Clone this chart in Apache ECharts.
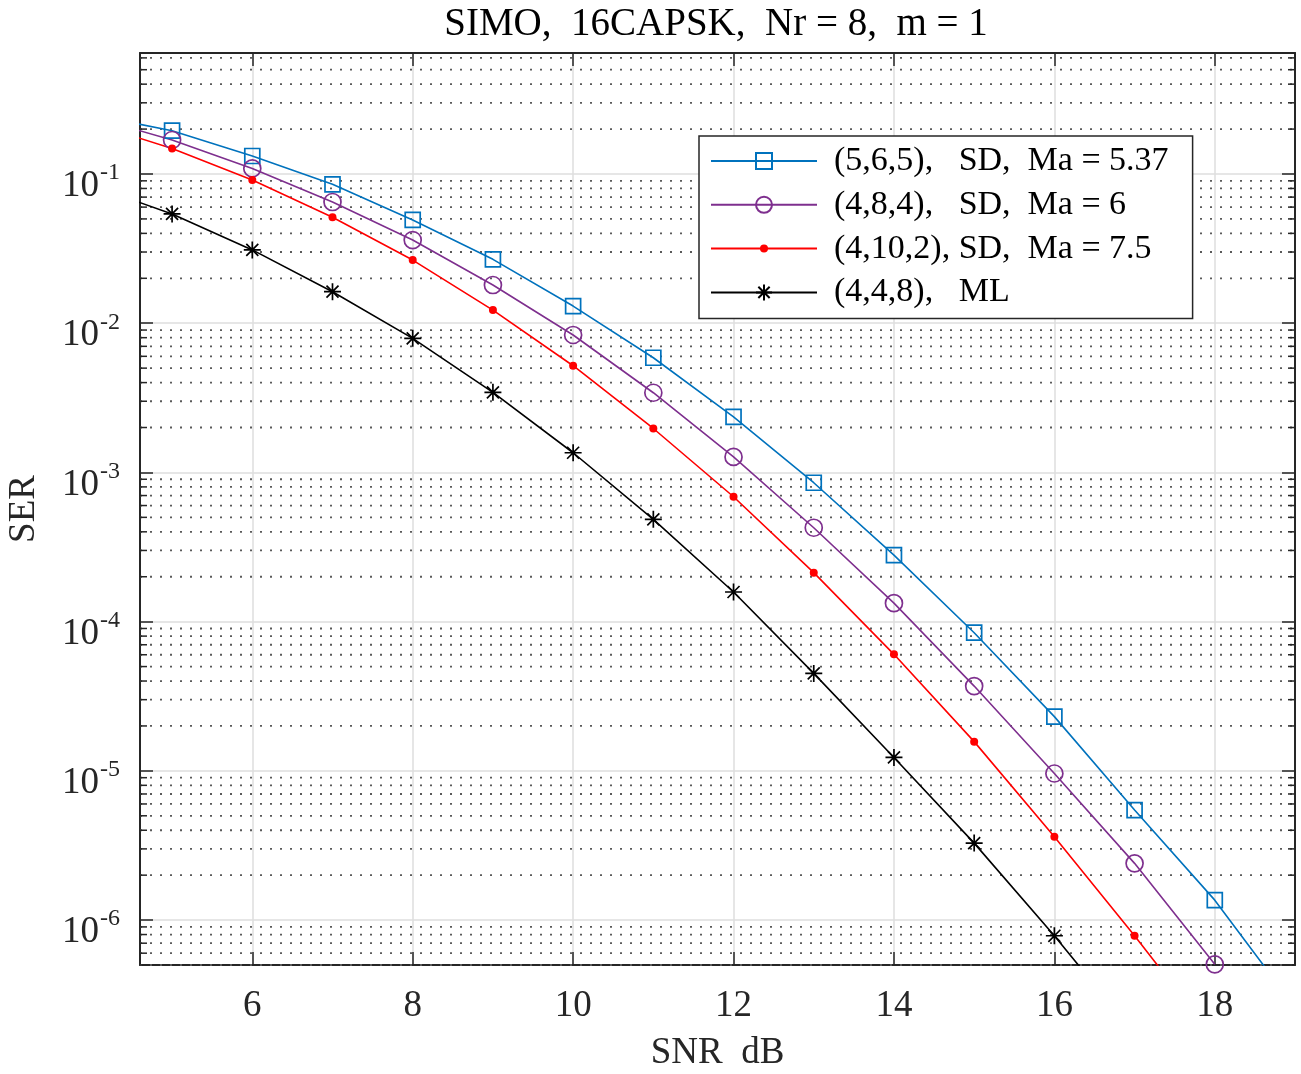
<!DOCTYPE html>
<html>
<head>
<meta charset="utf-8">
<script src="https://cdn.jsdelivr.net/npm/echarts@6/dist/echarts.min.js"></script>
<style>
html,body{margin:0;padding:0;background:#fff;}
#chart{width:1301px;height:1074px;}
</style>
</head>
<body>
<div id="chart"></div>
<script>
// ---------------- data ----------------
const snr = [4, 5, 6, 7, 8, 9, 10, 11, 12, 13, 14, 15, 16, 17, 18, 19];
const serSD565  = [0.25, 0.195, 0.132, 0.0853, 0.0492, 0.0268, 0.01303, 0.00587, 0.00236, 8.53e-4, 2.79e-4, 8.43e-5, 2.31e-5, 5.46e-6, 1.36e-6, 2.6e-7];
const serSD484  = [0.241, 0.169, 0.109, 0.0649, 0.0361, 0.01803, 0.00834, 0.00342, 0.00127, 4.26e-4, 1.33e-4, 3.70e-5, 9.6e-6, 2.40e-6, 5.05e-7, null];
const serSD4102 = [0.22, 0.148, 0.0912, 0.0513, 0.0265, 0.01225, 0.00519, 0.00197, 6.87e-4, 2.13e-4, 6.04e-5, 1.57e-5, 3.62e-6, 7.85e-7, 1.6e-7, null];
const serML448  = [0.0836, 0.054, 0.031, 0.01626, 0.00792, 0.00344, 0.001355, 4.85e-4, 1.58e-4, 4.5e-5, 1.23e-5, 3.28e-6, 7.85e-7, 1.73e-7, null, null];
const seriesNames = ['(5,6,5),   SD,  Ma = 5.37', '(4,8,4),   SD,  Ma = 6', '(4,10,2), SD,  Ma = 7.5', '(4,4,8),   ML'];
const titleText = 'SIMO,  16CAPSK,  Nr = 8,  m = 1';
const xName = 'SNR  dB';
const yName = 'SER';
const xTicks = [6, 8, 10, 12, 14, 16, 18];
const xRange = [4.6, 19];
const yRange = [5e-7, 0.647];
const yDecades = [-7, -6, -5, -4, -3, -2, -1];
const minorMantissas = [2, 3, 4, 5, 6, 7, 8, 9];

// ---------------- styling ----------------
const FONT = 'Liberation Serif';
const AX = '#262626';
const minorValues = [];
yDecades.forEach(function (d) {
  minorMantissas.forEach(function (m) {
    const v = m * Math.pow(10, d);
    if (v > yRange[0] * 0.999 && v < yRange[1]) minorValues.push(v);
  });
});

function pairs(arr) {
  const out = [];
  arr.forEach(function (v, i) { if (v != null) out.push([snr[i], v]); });
  return out;
}

const DOT = 'path://M-2,-2L-2,-2M2,2L2,2M-1,0A1,1 0 1,1 1,0A1,1 0 1,1 -1,0Z';
const STAR = 'path://M0,-1L0,1M-1,0L1,0M-0.707,-0.707L0.707,0.707M-0.707,0.707L0.707,-0.707';

const lineDefs = [
  {data: serSD565, color: '#0072BD', symbol: 'rect', size: 15, fill: 'rgba(0,0,0,0)'},
  {data: serSD484, color: '#7E2F8E', symbol: 'circle', size: 17, fill: 'rgba(0,0,0,0)'},
  {data: serSD4102, color: '#FF0000', symbol: DOT, size: 16, fill: '#FF0000'},
  {data: serML448, color: '#000000', symbol: STAR, size: 17, fill: 'rgba(0,0,0,0)'}
];

const lineSeries = lineDefs.map(function (d, i) {
  return {
    name: seriesNames[i],
    type: 'line',
    xAxisIndex: 0,
    yAxisIndex: 0,
    data: pairs(d.data),
    symbol: d.symbol,
    symbolSize: d.size,
    showAllSymbol: true,
    clip: true,
    z: 3,
    lineStyle: {color: d.color, width: 1.6},
    itemStyle: {color: d.fill, borderColor: d.color, borderWidth: d.fill === d.color ? 0 : 1.7},
    emphasis: {disabled: true},
    animation: false
  };
});

const minorSeries = {
  type: 'custom',
  coordinateSystem: 'cartesian2d',
  xAxisIndex: 0,
  yAxisIndex: 0,
  silent: true,
  z: 1,
  data: minorValues.map(function (v) { return [xRange[0], v]; }),
  encode: {x: 0, y: 1},
  renderItem: function (params, api) {
    const cs = params.coordSys;
    const y = api.coord([xRange[0], api.value(1)])[1];
    const l = cs.x, r = cs.x + cs.width;
    return {
      type: 'group',
      children: [
        {type: 'line', shape: {x1: l, y1: y, x2: r, y2: y}, style: {stroke: '#5a5a5a', lineWidth: 1.8, lineDash: [2, 8]}},
        {type: 'line', shape: {x1: l, y1: y, x2: l + 7, y2: y}, style: {stroke: AX, lineWidth: 1.5}},
        {type: 'line', shape: {x1: r - 7, y1: y, x2: r, y2: y}, style: {stroke: AX, lineWidth: 1.5}}
      ]
    };
  }
};

function isTick(v, list) {
  for (let i = 0; i < list.length; i++) if (Math.abs(v - list[i]) < 1e-6) return true;
  return false;
}

const chart = echarts.init(document.getElementById('chart'), null, {renderer: 'canvas'});
chart.setOption({
  animation: false,
  backgroundColor: '#ffffff',
  textStyle: {fontFamily: FONT},
  title: {
    text: titleText,
    left: 716,
    top: 5,
    padding: 0,
    textAlign: 'center',
    textStyle: {fontFamily: FONT, fontSize: 39, fontWeight: 'normal', color: '#000', lineHeight: 39}
  },
  grid: {left: 140, right: 6, top: 53, bottom: 109, containLabel: false, outerBoundsMode: 'none'},
  legend: {
    orient: 'vertical',
    left: 699,
    top: 136,
    padding: [8, 24, 9, 11],
    itemWidth: 106,
    itemHeight: 20,
    itemGap: 9.8,
    backgroundColor: '#ffffff',
    borderColor: AX,
    borderWidth: 1.5,
    borderRadius: 0,
    selectedMode: false,
    data: seriesNames,
    textStyle: {fontFamily: FONT, fontSize: 34, lineHeight: 34, color: '#000', padding: [0, 0, 0, 12]}
  },
  xAxis: [{
    type: 'value',
    position: 'bottom',
    min: xRange[0],
    max: xRange[1],
    splitNumber: 7,
    minInterval: 2,
    maxInterval: 2,
    name: xName,
    nameLocation: 'middle',
    nameGap: 70,
    nameTextStyle: {fontFamily: FONT, fontSize: 37, lineHeight: 37, color: AX},
    axisLine: {show: true, onZero: false, lineStyle: {color: AX, width: 2}},
    axisTick: {show: true, inside: true, length: 13, lineStyle: {color: AX, width: 1.5}},
    axisLabel: {
      margin: 23, fontFamily: FONT, fontSize: 37, lineHeight: 37, color: AX,
      formatter: function (v) { return isTick(v, xTicks) ? String(Math.round(v)) : ''; }
    },
    splitLine: {show: true, lineStyle: {color: '#dedede', width: 1.5}}
  }, {
    type: 'value',
    position: 'top',
    min: xRange[0],
    max: xRange[1],
    splitNumber: 7,
    minInterval: 2,
    maxInterval: 2,
    axisLine: {show: true, onZero: false, lineStyle: {color: AX, width: 2}},
    axisTick: {show: true, inside: true, length: 13, lineStyle: {color: AX, width: 1.5}},
    axisLabel: {show: false},
    splitLine: {show: false}
  }],
  yAxis: [{
    type: 'log',
    logBase: 10,
    position: 'left',
    min: yRange[0],
    max: yRange[1],
    name: yName,
    nameLocation: 'middle',
    nameGap: 97,
    nameTextStyle: {fontFamily: FONT, fontSize: 37, lineHeight: 37, color: AX},
    axisLine: {show: true, onZero: false, lineStyle: {color: AX, width: 2}},
    axisTick: {show: true, inside: true, length: 13, lineStyle: {color: AX, width: 1.5}},
    axisLabel: {
      margin: 20,
      padding: [18, 0, 0, 0],
      formatter: function (v) {
        const e = Math.log10(v);
        const r = Math.round(e);
        if (Math.abs(e - r) > 1e-6 || !isTick(r, yDecades)) return '';
        return '{b|10}{s|' + r + '}';
      },
      rich: {
        b: {fontFamily: FONT, fontSize: 37, lineHeight: 44, color: AX, verticalAlign: 'bottom'},
        s: {fontFamily: FONT, fontSize: 24, lineHeight: 24, color: AX, verticalAlign: 'top', padding: [0, 0, 0, 1]}
      }
    },
    splitLine: {show: true, lineStyle: {color: '#dedede', width: 1.5}}
  }, {
    type: 'log',
    logBase: 10,
    position: 'right',
    min: yRange[0],
    max: yRange[1],
    axisLine: {show: true, onZero: false, lineStyle: {color: AX, width: 2}},
    axisTick: {show: true, inside: true, length: 13, lineStyle: {color: AX, width: 1.5}},
    axisLabel: {show: false},
    splitLine: {show: false}
  }],
  series: [minorSeries].concat(lineSeries)
});
</script>
</body>
</html>
